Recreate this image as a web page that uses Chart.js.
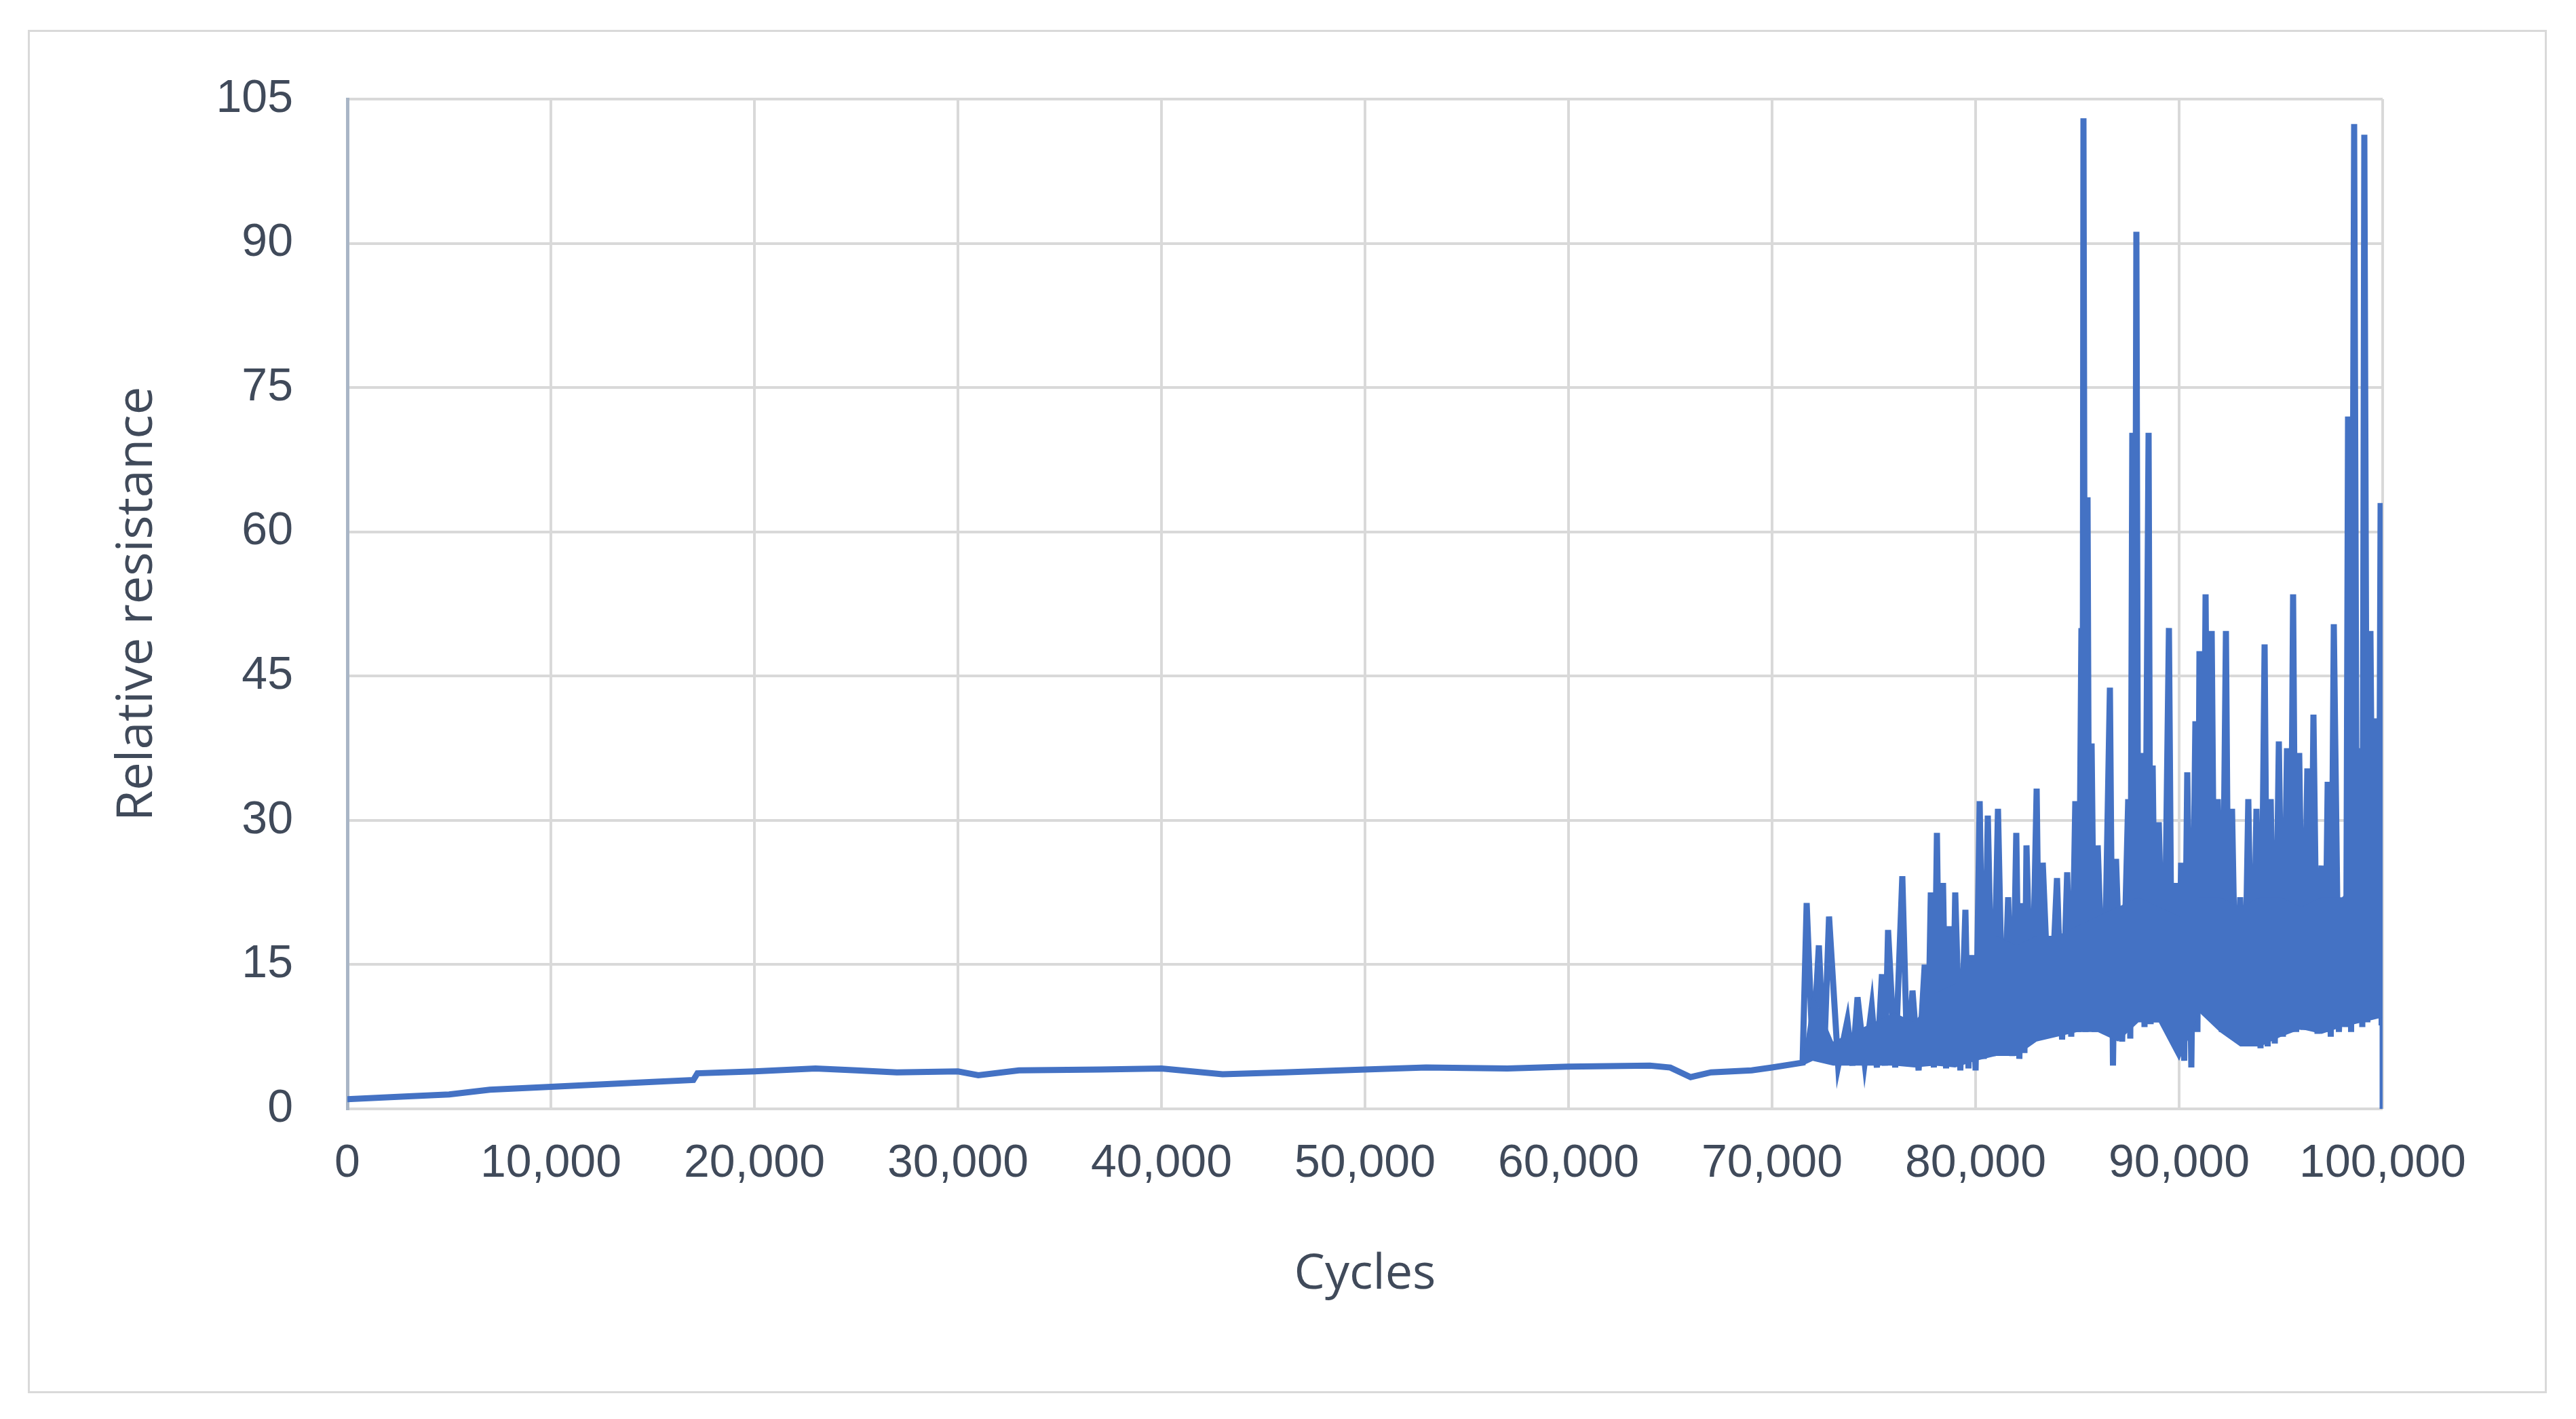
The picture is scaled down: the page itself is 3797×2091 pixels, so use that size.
<!DOCTYPE html>
<html>
<head>
<meta charset="utf-8">
<script src="https://cdn.jsdelivr.net/npm/chart.js@4/dist/chart.umd.min.js"></script>
<style>
  html, body { margin: 0; padding: 0; background: #fff; }
  #frame { position: absolute; left: 41px; top: 44px; width: 3707px; height: 2003px; border: 3px solid #d9d9d9; }
  #wrap { position: absolute; left: 0; top: 0; width: 3797px; height: 2091px; }
</style>
</head>
<body>
<div id="frame"></div>
<div id="wrap"><canvas id="chart"></canvas></div>
<script>
// cycles are in thousands
const baseK = [0, 3, 5, 7, 10, 15, 17, 17.2, 20, 23, 25, 27, 30, 31, 33, 37, 40, 43, 46, 50, 53, 57, 60, 64, 65, 66, 67, 69, 70, 71.5];
const baseV = [1.0, 1.3, 1.5, 2.0, 2.3, 2.8, 3.0, 3.7, 3.9, 4.2, 4.0, 3.8, 3.9, 3.5, 4.0, 4.1, 4.2, 3.6, 3.8, 4.1, 4.3, 4.2, 4.4, 4.5, 4.3, 3.3, 3.8, 4.0, 4.3, 4.8];

const spikeK = [71.7, 72.3, 72.8, 73.7, 74.2, 74.9, 75.4, 75.7, 76.4, 76.9, 77.5, 77.8, 78.1, 78.4, 78.7, 79.0, 79.5, 79.8, 80.2, 80.6,
  81.1, 81.6, 82.0, 82.3, 82.5, 83.0, 83.3, 84.0, 84.5, 84.9, 85.2, 85.3, 85.5, 85.7, 86.0, 86.6, 86.9, 87.5, 87.7, 87.9,
  88.1, 88.5, 88.7, 89.0, 89.5, 89.8, 90.1, 90.4, 90.8, 91.0, 91.3, 91.6, 91.9, 92.3, 92.6, 93.0, 93.4, 93.8, 94.2, 94.5,
  94.9, 95.3, 95.6, 95.9, 96.3, 96.6, 97.0, 97.3, 97.6, 98.1, 98.3, 98.6, 98.9, 99.1, 99.4, 99.7, 99.9];
const spikeV = [21.4, 17, 20, 9.2, 11.6, 10.6, 14, 18.6, 24.2, 12.3, 15, 22.5, 28.7, 23.5, 19, 22.5, 20.7, 16, 32, 30.5,
  31.2, 22, 28.7, 21.4, 27.4, 33.3, 25.6, 24, 24.6, 32, 50, 103, 63.6, 38, 27.4, 43.8, 26, 32.2, 70.3, 91.2,
  37, 70.3, 35.7, 29.8, 50, 23.5, 25.6, 35, 40.3, 47.6, 53.5, 49.7, 32.2, 49.7, 31.2, 22, 32.2, 31.2, 48.3, 32.2,
  38.2, 37.5, 53.5, 37, 35.4, 41, 25.3, 34, 50.4, 21.4, 72, 102.4, 37.5, 101.3, 49.7, 40.6, 63];
const troughV = [5.5, 5, 4.5, 4.5, 4.8, 4.3, 4.5, 4.3, 4.5, 4, 4.5, 4.3, 4.5, 4.2, 4.5, 4.0, 4.2, 4, 5.2, 5.5,
  5.8, 5.5, 5.2, 5.8, 7, 7.5, 7.5, 7.2, 7.5, 8, 10, 8, 8.5, 8, 8.5, 4.5, 7, 7.3, 10, 11,
  8.5, 8.8, 9, 9, 7, 6.5, 5, 4.3, 8, 11.5, 11, 11.5, 8, 8.2, 8, 7, 6.5, 6.3, 6.5, 6.8,
  7.5, 8, 8, 8.2, 8.5, 7.8, 8, 7.5, 8, 8.5, 8, 9, 8.5, 9, 9.5, 10, 9];

const bandK = [71.5, 72, 73, 74, 75, 76, 77, 78, 79, 80, 81, 82, 83, 84, 85, 86, 87, 88, 89, 90, 91, 92, 93, 94, 95, 96, 97, 98, 99, 100];
const bandTop = [5, 12, 7, 8, 9, 10, 9, 12, 13, 16, 18, 17, 18, 18, 19, 20, 21, 22, 21, 20, 22, 22, 21, 22, 22, 21, 22, 22, 24, 24];
const bandBottom = [4.5, 5, 4.5, 4.5, 4.5, 4.5, 4.3, 4.5, 4.3, 5, 5.5, 5.5, 7, 7.5, 8, 8, 7, 9, 9, 5, 10, 8, 6.5, 6.5, 7.5, 8.3, 7.8, 8.5, 9, 9.5];

const yTicks = [0, 15, 30, 45, 60, 75, 90, 105];

const BLUE = '#4472c4';

const mainLine = baseK.map((k, i) => ({ x: k * 1000, y: baseV[i] }));
spikeK.forEach((k, i) => {
  mainLine.push({ x: k * 1000, y: spikeV[i] });
  const next = i + 1 < spikeK.length ? spikeK[i + 1] : 100;
  mainLine.push({ x: (k + next) / 2 * 1000, y: troughV[i] });
});
mainLine.push({ x: 100000, y: 9 }, { x: 100000, y: 0 });

const tickFont = { family: "'Liberation Sans Narrow', 'Liberation Sans', sans-serif", size: 68 };

new Chart(document.getElementById('chart'), {
  type: 'scatter',
  data: {
    datasets: [
      { data: bandK.map((k, i) => ({ x: k * 1000, y: bandTop[i] })), showLine: true, borderWidth: 0,
        borderColor: BLUE, backgroundColor: BLUE, pointRadius: 0, fill: '+1' },
      { data: bandK.map((k, i) => ({ x: k * 1000, y: bandBottom[i] })), showLine: true, borderWidth: 0,
        borderColor: BLUE, pointRadius: 0, fill: false },
      { data: mainLine, showLine: true, borderColor: BLUE, borderWidth: 9, pointRadius: 0, fill: false, tension: 0 }
    ]
  },
  options: {
    responsive: true,
    maintainAspectRatio: false,
    animation: false,
    layout: { padding: { left: 155, top: 146, right: 285, bottom: 165 } },
    plugins: { legend: { display: false }, tooltip: { enabled: false } },
    scales: {
      x: {
        type: 'linear', min: 0, max: 100000,
        afterFit: (s) => { s.height = 292; },
        afterBuildTicks: (s) => { s.ticks = Array.from({ length: 11 }, (_, i) => ({ value: i * 10000 })); },
        ticks: { color: '#404a5a', font: tickFont, padding: 40, maxRotation: 0,
          callback: (v) => v.toLocaleString('en-US') },
        grid: { color: '#d9d9d9', lineWidth: 4, drawTicks: false },
        border: { display: false },
        title: { display: true, text: 'Cycles', color: '#404a5a', padding: { top: 30 },
          font: { family: "'Open Sans', sans-serif", size: 72 } }
      },
      y: {
        min: 0, max: 105,
        afterFit: (s) => { s.width = 357; },
        afterBuildTicks: (s) => { s.ticks = yTicks.map((v) => ({ value: v })); },
        ticks: { color: '#404a5a', font: tickFont, padding: 80 },
        grid: { color: '#d9d9d9', lineWidth: 4, drawTicks: false },
        border: { color: '#a9b6c6', width: 5 },
        title: { display: true, text: 'Relative resistance', color: '#404a5a', padding: { bottom: 20 },
          font: { family: "'Open Sans', sans-serif", size: 74 } }
      }
    }
  }
});
</script>
</body>
</html>
